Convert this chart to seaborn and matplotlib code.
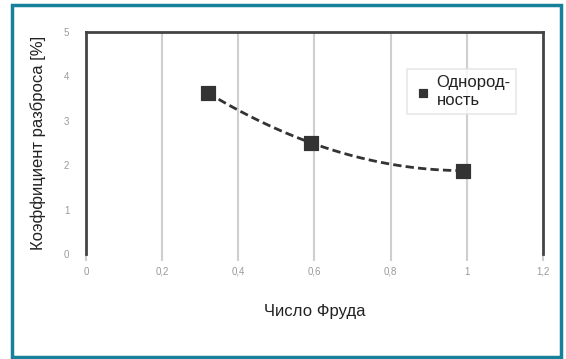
import numpy as np
import pandas as pd
import matplotlib
matplotlib.use("Agg")
import matplotlib.pyplot as plt
from matplotlib.patches import Rectangle
import seaborn as sns

# данные
froude = [0.32, 0.59, 0.99]
scatter_pct = [3.63, 2.51, 1.88]
x_ticks = [0, 0.2, 0.4, 0.6, 0.8, 1.0, 1.2]
x_ticklabels = ["0", "0,2", "0,4", "0,6", "0,8", "1", "1,2"]
y_ticks = [0, 1, 2, 3, 4, 5]
legend_label = "Однород-\nность"

sns.set_theme(style="white")
plt.rcParams["font.family"] = ["Liberation Sans", "DejaVu Sans"]

df = pd.DataFrame({"fr": froude, "cv": scatter_pct})

# линия тренда (полином 2-й степени, как в Excel)
coef = np.polyfit(froude, scatter_pct, 2)
xs = np.linspace(min(froude), max(froude), 100)
trend = pd.DataFrame({"fr": xs, "cv": np.polyval(coef, xs)})

fig = plt.figure(figsize=(5.66, 3.59), dpi=100)
ax = fig.add_axes([0.152, 0.292, 0.807, 0.619])

for xt in x_ticks[1:-1]:
    ax.axvline(xt, color="#cfcfcf", lw=1.5, zorder=0)

sns.lineplot(data=trend, x="fr", y="cv", ax=ax, color="#333333", lw=2,
             linestyle=(0, (3, 1.5)), legend=False, zorder=2)
sns.scatterplot(data=df, x="fr", y="cv", ax=ax, marker="s", s=115,
                color="#333333", edgecolor="#333333", label=legend_label, zorder=3)

ax.set_xlim(0, 1.2)
ax.set_ylim(0, 5)
ax.set_xticks(x_ticks)
ax.set_xticklabels(x_ticklabels)
ax.set_yticks(y_ticks)
ax.tick_params(axis="x", length=5, width=1.5, color="#cfcfcf", labelsize=7,
               labelcolor="#9a9a9a", pad=4, bottom=True)
ax.tick_params(axis="y", length=0, labelsize=7, labelcolor="#9a9a9a", pad=12)

for side in ["left", "right", "top"]:
    ax.spines[side].set_color("#444444")
    ax.spines[side].set_linewidth(2)
ax.spines["bottom"].set_visible(False)

ax.set_xlabel("Число Фруда", fontsize=12, color="#222222", labelpad=20)
ax.set_ylabel("Коэффициент разброса [%]", fontsize=12, color="#222222", labelpad=13)

leg = ax.legend(loc="upper left", bbox_to_anchor=(0.685, 0.87), frameon=True,
                fontsize=12, handletextpad=0.2, borderpad=0.35, fancybox=False,
                markerscale=0.6, handlelength=1.2)
leg.get_frame().set_edgecolor("#e2e2e2")
leg.get_frame().set_linewidth(1.2)
for t in leg.get_texts():
    t.set_color("#222222")
    t.set_linespacing(1.25)

fig.patches.append(Rectangle((0.021, 0.006), 0.971, 0.98, transform=fig.transFigure,
                             fill=False, edgecolor="#17809a", lw=2.5))

fig.savefig("out.png", dpi=100)
